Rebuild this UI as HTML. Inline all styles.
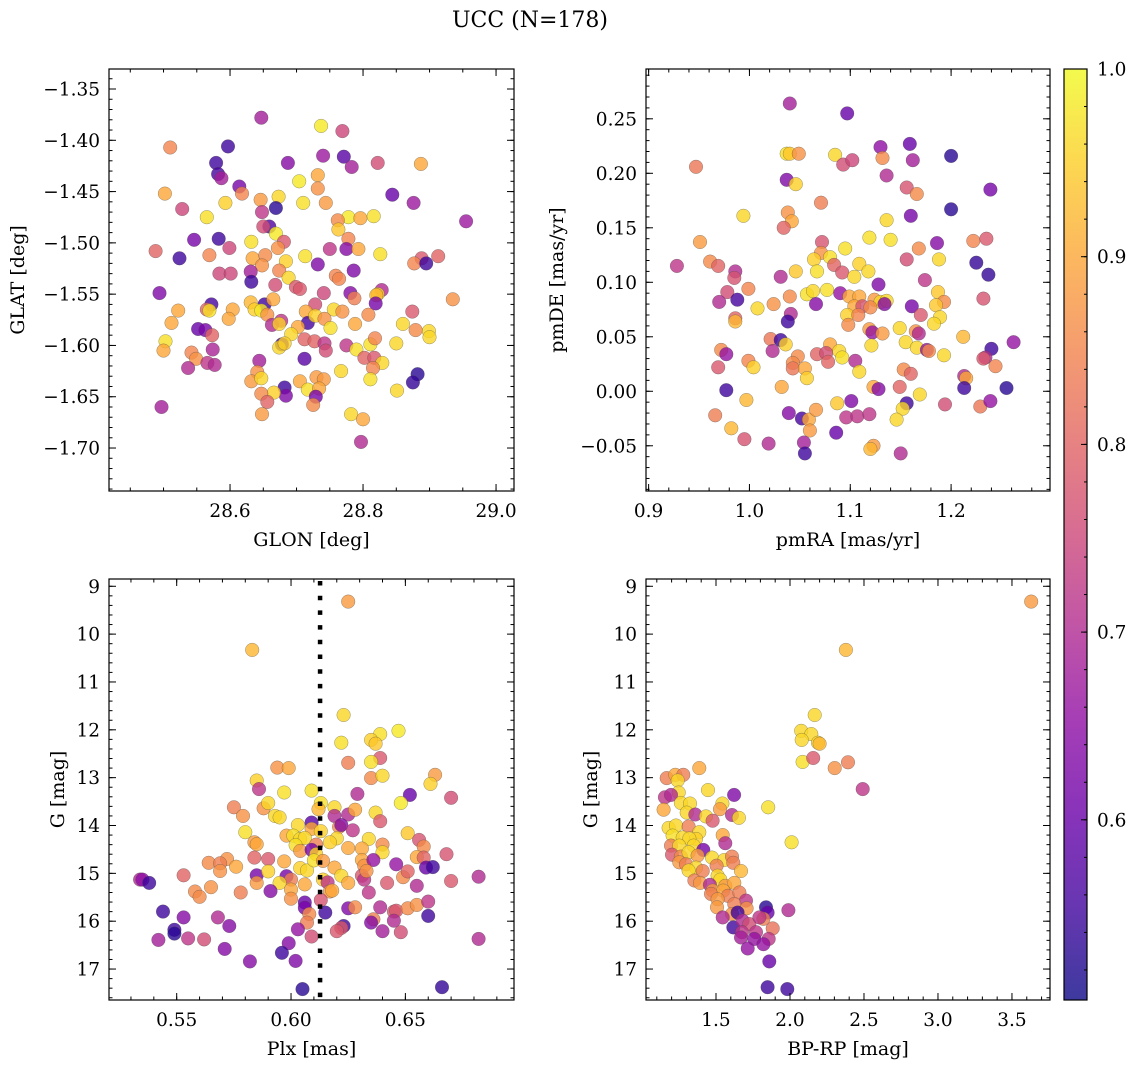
<!DOCTYPE html>
<html><head><meta charset="utf-8"><style>
html,body{margin:0;padding:0;background:#fff;}
svg{display:block;font-family:"DejaVu Serif","Liberation Serif",serif;}
</style></head><body>
<svg id="fig" width="1136" height="1068" viewBox="0 0 1136 1068" xmlns="http://www.w3.org/2000/svg">
<defs>
<linearGradient id="plasmaGrad" x1="0" y1="1" x2="0" y2="0">
<stop offset="0" stop-color="#0d0887"/><stop offset="0.1" stop-color="#41049d"/><stop offset="0.2" stop-color="#6a00a8"/><stop offset="0.3" stop-color="#8f0da4"/><stop offset="0.4" stop-color="#b12a90"/><stop offset="0.5" stop-color="#cc4778"/><stop offset="0.6" stop-color="#e16462"/><stop offset="0.7" stop-color="#f2844b"/><stop offset="0.8" stop-color="#fca636"/><stop offset="0.9" stop-color="#fcce25"/><stop offset="1" stop-color="#f0f921"/>
</linearGradient>
</defs>
<text x="530" y="27" text-anchor="middle" font-size="22">UCC (N=178)</text>
</svg>
<script>
// ---- Panel 1: GLON / GLAT ----
const glon = [28.647,28.737,28.769,28.510,28.597,28.687,28.740,28.771,28.783,28.822,28.887,28.579,28.582,28.587,28.704,28.732,28.732,28.614,28.618,28.502,28.646,28.673,28.710,28.744,28.844,28.876,28.593,28.528,28.669,28.648,28.565,28.778,28.796,28.816,28.762,28.955,28.659,28.650,28.669,28.763,28.546,28.583,28.632,28.681,28.778,28.488,28.599,28.672,28.750,28.775,28.793,28.826,28.524,28.569,28.634,28.653,28.713,28.913,28.888,28.877,28.895,28.648,28.684,28.732,28.584,28.601,28.631,28.674,28.786,28.632,28.688,28.759,28.764,28.668,28.699,28.705,28.741,28.494,28.781,28.828,28.822,28.820,28.787,28.819,28.935,28.631,28.652,28.665,28.572,28.565,28.569,28.522,28.604,28.637,28.647,28.728,28.714,28.756,28.769,28.874,28.512,28.598,28.656,28.677,28.663,28.674,28.717,28.728,28.742,28.751,28.788,28.808,28.860,28.552,28.563,28.573,28.702,28.692,28.879,28.899,28.900,28.503,28.500,28.574,28.678,28.674,28.682,28.712,28.727,28.742,28.744,28.775,28.811,28.818,28.790,28.850,28.542,28.549,28.537,28.566,28.577,28.644,28.712,28.802,28.817,28.829,28.815,28.767,28.641,28.632,28.647,28.730,28.741,28.705,28.811,28.882,28.875,28.851,28.682,28.684,28.717,28.734,28.666,28.647,28.656,28.729,28.725,28.497,28.648,28.782,28.800,28.797];
const glat = [-1.378,-1.386,-1.391,-1.407,-1.406,-1.422,-1.415,-1.416,-1.426,-1.422,-1.423,-1.422,-1.433,-1.437,-1.440,-1.434,-1.447,-1.445,-1.452,-1.452,-1.458,-1.455,-1.461,-1.461,-1.453,-1.461,-1.461,-1.467,-1.466,-1.470,-1.475,-1.475,-1.476,-1.474,-1.478,-1.479,-1.484,-1.484,-1.491,-1.487,-1.497,-1.496,-1.499,-1.499,-1.496,-1.508,-1.505,-1.505,-1.506,-1.506,-1.506,-1.511,-1.515,-1.512,-1.515,-1.512,-1.513,-1.513,-1.515,-1.520,-1.520,-1.522,-1.518,-1.521,-1.530,-1.530,-1.528,-1.527,-1.527,-1.538,-1.534,-1.532,-1.535,-1.541,-1.543,-1.545,-1.549,-1.549,-1.549,-1.546,-1.550,-1.551,-1.554,-1.559,-1.555,-1.558,-1.560,-1.555,-1.560,-1.565,-1.566,-1.566,-1.565,-1.565,-1.566,-1.560,-1.567,-1.565,-1.567,-1.567,-1.578,-1.574,-1.570,-1.576,-1.580,-1.579,-1.578,-1.571,-1.574,-1.583,-1.579,-1.570,-1.579,-1.584,-1.585,-1.590,-1.582,-1.589,-1.585,-1.586,-1.592,-1.596,-1.605,-1.604,-1.599,-1.602,-1.598,-1.594,-1.596,-1.598,-1.605,-1.600,-1.599,-1.593,-1.604,-1.598,-1.607,-1.613,-1.622,-1.617,-1.619,-1.615,-1.613,-1.612,-1.612,-1.617,-1.622,-1.625,-1.626,-1.635,-1.632,-1.631,-1.633,-1.635,-1.633,-1.628,-1.636,-1.644,-1.641,-1.649,-1.643,-1.642,-1.646,-1.647,-1.655,-1.650,-1.658,-1.660,-1.667,-1.667,-1.672,-1.694];
const prob1 = [.68,.98,.75,.85,.55,.64,.67,.58,.68,.76,.9,.55,.56,.68,.98,.9,.87,.62,.85,.9,.88,.96,.97,.88,.6,.67,.95,.75,.53,.72,.97,.98,.9,.97,.86,.67,.57,.76,.98,.94,.62,.55,.97,.78,.85,.8,.75,.87,.72,.64,.9,.97,.55,.85,.9,.86,.97,.8,.78,.85,.55,.87,.95,.63,.75,.75,.68,.85,.63,.55,.96,.85,.85,.76,.78,.78,.75,.63,.64,.7,.96,.92,.84,.62,.87,.92,.55,.9,.56,.8,.97,.9,.9,.95,.98,.76,.9,.96,.87,.78,.9,.9,.87,.72,.7,.95,.56,.95,.87,.97,.9,.86,.96,.6,.62,.8,.9,.96,.86,.96,.96,.97,.9,.69,.55,.96,.95,.8,.8,.72,.76,.72,.97,.85,.97,.96,.85,.87,.7,.72,.7,.68,.58,.8,.78,.96,.85,.96,.87,.88,.96,.88,.88,.9,.97,.53,.54,.96,.55,.63,.97,.9,.95,.86,.8,.62,.86,.68,.88,.96,.9,.7];
// ---- Panel 2: pmRA / pmDE ----
const pmra = [1.040,1.097,0.947,1.037,1.040,1.049,1.085,1.093,1.102,1.130,1.132,1.159,1.162,1.200,1.136,1.037,1.046,1.156,1.166,1.239,1.071,1.200,0.994,1.038,1.042,1.034,1.160,1.136,0.951,1.119,1.140,1.072,1.186,1.222,1.235,1.095,1.168,1.071,1.064,1.080,0.928,0.961,0.969,1.084,1.109,1.156,1.188,1.225,0.986,0.985,1.031,1.046,1.067,1.092,1.104,1.118,1.237,1.174,0.999,0.978,1.057,1.063,1.077,1.090,1.128,1.187,0.970,0.988,1.024,1.040,1.066,1.099,1.109,1.124,1.130,1.136,1.134,1.193,1.185,1.232,1.008,1.104,1.112,1.120,1.161,1.041,1.038,0.986,0.986,1.097,1.108,1.170,1.189,1.098,1.183,1.149,1.119,1.122,1.132,1.165,1.168,1.212,1.021,1.031,1.036,1.080,1.155,1.121,1.262,1.240,0.972,0.977,1.023,1.089,1.092,1.067,1.076,1.048,1.166,1.176,1.178,1.193,1.234,1.232,0.999,1.004,0.969,1.043,1.043,1.055,1.078,1.105,1.109,1.153,1.160,1.244,1.057,1.213,1.215,0.977,1.032,1.123,1.128,1.149,1.169,1.213,1.255,0.997,1.087,1.101,1.156,1.152,1.194,1.229,1.239,0.966,1.039,1.052,1.059,1.066,1.060,1.096,1.107,1.119,1.146,0.982,0.995,1.019,1.054,1.086,1.123,1.120,1.055,1.150];
const pmde = [0.264,0.255,0.206,0.218,0.218,0.218,0.217,0.208,0.212,0.224,0.214,0.227,0.212,0.216,0.198,0.194,0.190,0.187,0.181,0.185,0.173,0.167,0.161,0.164,0.156,0.150,0.161,0.157,0.137,0.141,0.139,0.137,0.136,0.138,0.140,0.131,0.131,0.127,0.121,0.123,0.115,0.119,0.115,0.116,0.117,0.121,0.121,0.118,0.110,0.104,0.105,0.110,0.110,0.109,0.105,0.110,0.107,0.102,0.094,0.091,0.089,0.092,0.093,0.090,0.098,0.091,0.082,0.084,0.080,0.087,0.080,0.087,0.087,0.084,0.082,0.083,0.080,0.082,0.079,0.085,0.076,0.078,0.078,0.077,0.078,0.071,0.064,0.067,0.064,0.070,0.070,0.070,0.068,0.061,0.062,0.058,0.057,0.054,0.053,0.055,0.053,0.050,0.048,0.047,0.043,0.043,0.045,0.042,0.045,0.039,0.038,0.034,0.037,0.037,0.031,0.034,0.035,0.032,0.040,0.038,0.037,0.033,0.031,0.030,0.028,0.022,0.022,0.026,0.021,0.021,0.027,0.028,0.018,0.020,0.016,0.023,0.012,0.014,0.012,0.001,0.004,0.004,0.002,0.004,-0.003,0.003,0.003,-0.008,-0.011,-0.009,-0.011,-0.016,-0.012,-0.014,-0.009,-0.022,-0.020,-0.025,-0.026,-0.017,-0.036,-0.024,-0.023,-0.021,-0.026,-0.034,-0.044,-0.048,-0.047,-0.038,-0.050,-0.053,-0.057,-0.057];
const prob2 = [.68,.6,.83,.97,.94,.87,.96,.76,.75,.65,.86,.6,.68,.53,.7,.63,.95,.77,.86,.62,.84,.53,.96,.87,.9,.8,.62,.96,.88,.97,.97,.77,.64,.85,.78,.97,.86,.87,.95,.97,.72,.86,.8,.8,.95,.76,.96,.54,.7,.77,.7,.94,.97,.78,.96,.96,.54,.72,.85,.76,.97,.96,.97,.66,.63,.94,.7,.56,.87,.86,.64,.9,.9,.88,.96,.96,.64,.86,.94,.77,.96,.9,.77,.86,.62,.7,.55,.8,.92,.95,.85,.78,.96,.86,.96,.96,.88,.66,.88,.87,.7,.92,.83,.55,.95,.9,.96,.96,.66,.55,.86,.66,.7,.96,.97,.8,.76,.86,.96,.66,.86,.96,.7,.78,.85,.95,.78,.86,.83,.9,.8,.7,.96,.86,.8,.85,.95,.7,.9,.55,.9,.9,.64,.8,.96,.55,.53,.92,.94,.63,.55,.96,.76,.83,.66,.84,.64,.56,.9,.88,.88,.72,.72,.72,.96,.92,.77,.7,.68,.6,.88,.92,.55,.7];
// ---- Panel 3: Plx / G ----
const plx = [0.625,0.583,0.623,0.647,0.639,0.635,0.637,0.622,0.639,0.625,0.635,0.594,0.599,0.663,0.635,0.640,0.661,0.585,0.586,0.597,0.609,0.629,0.652,0.670,0.648,0.575,0.588,0.590,0.579,0.593,0.595,0.613,0.612,0.619,0.619,0.625,0.628,0.637,0.639,0.609,0.603,0.609,0.621,0.622,0.627,0.580,0.598,0.601,0.604,0.606,0.613,0.620,0.617,0.634,0.651,0.656,0.584,0.585,0.602,0.604,0.611,0.609,0.611,0.625,0.631,0.640,0.640,0.658,0.655,0.658,0.668,0.584,0.590,0.572,0.564,0.569,0.569,0.576,0.597,0.604,0.607,0.610,0.614,0.619,0.631,0.632,0.636,0.646,0.659,0.662,0.553,0.534,0.535,0.538,0.585,0.590,0.598,0.600,0.622,0.625,0.631,0.632,0.633,0.649,0.651,0.670,0.682,0.585,0.595,0.606,0.614,0.616,0.617,0.618,0.558,0.560,0.565,0.578,0.591,0.600,0.600,0.642,0.655,0.634,0.613,0.606,0.544,0.553,0.568,0.606,0.608,0.607,0.615,0.625,0.628,0.639,0.645,0.646,0.651,0.655,0.660,0.660,0.636,0.635,0.645,0.623,0.622,0.620,0.549,0.549,0.542,0.555,0.562,0.573,0.603,0.609,0.640,0.648,0.682,0.571,0.599,0.596,0.602,0.582,0.605,0.666];
const gmag3 = [9.32,10.33,11.69,12.02,12.09,12.21,12.29,12.27,12.59,12.69,12.67,12.79,12.80,12.94,13.01,12.96,13.13,13.06,13.24,13.31,13.27,13.34,13.36,13.42,13.53,13.62,13.64,13.53,13.80,13.80,13.83,13.53,13.66,13.62,13.80,13.77,13.67,13.73,13.91,13.94,13.99,14.07,14.03,13.99,14.10,14.14,14.21,14.21,14.28,14.26,14.12,14.27,14.35,14.28,14.16,14.30,14.35,14.39,14.41,14.53,14.40,14.51,14.60,14.47,14.48,14.40,14.56,14.44,14.66,14.67,14.60,14.67,14.70,14.70,14.78,14.79,14.95,14.86,14.75,14.89,14.94,14.73,14.74,14.88,14.72,14.84,14.72,14.81,14.88,14.87,15.04,15.13,15.13,15.20,15.04,14.96,15.06,15.13,15.05,15.20,15.05,15.13,14.95,15.08,14.96,15.16,15.07,15.20,15.20,15.23,15.13,15.19,15.38,15.36,15.38,15.49,15.29,15.40,15.37,15.34,15.53,15.20,15.26,15.40,15.56,15.61,15.80,15.92,15.92,15.72,15.85,16.03,15.82,15.73,15.71,15.71,15.80,15.78,15.73,15.66,15.59,15.89,15.96,16.03,15.99,16.10,16.14,16.21,16.18,16.26,16.39,16.36,16.38,16.10,16.17,16.32,16.21,16.23,16.37,16.58,16.46,16.66,16.83,16.84,17.42,17.38];
const prob3 = [.88,.92,.96,.98,.97,.95,.94,.97,.78,.84,.97,.87,.9,.88,.86,.96,.95,.95,.72,.97,.97,.7,.6,.76,.98,.84,.87,.96,.87,.96,.96,.97,.92,.96,.7,.7,.9,.96,.78,.58,.96,.9,.86,.64,.72,.97,.9,.97,.96,.96,.95,.96,.95,.96,.94,.77,.88,.9,.97,.88,.84,.62,.95,.9,.9,.86,.96,.86,.9,.8,.77,.8,.78,.87,.86,.84,.87,.9,.9,.95,.96,.97,.88,.9,.9,.87,.66,.66,.6,.55,.8,.7,.65,.55,.62,.95,.62,.84,.96,.9,.78,.72,.87,.86,.8,.78,.7,.88,.96,.9,.95,.72,.88,.9,.86,.86,.87,.84,.64,.9,.87,.78,.7,.72,.77,.6,.55,.64,.7,.62,.86,.84,.55,.63,.86,.7,.78,.78,.86,.87,.72,.55,.84,.64,.7,.55,.78,.78,.55,.53,.68,.72,.76,.64,.66,.76,.68,.76,.7,.64,.64,.55,.63,.64,.53,.54];
// ---- Panel 4: BP-RP / G ----
const bprp = [2.378,2.167,2.076,2.144,2.079,2.189,2.200,2.085,2.157,2.302,2.392,2.491,1.853,2.011,1.989,1.387,1.167,1.225,1.279,1.241,1.248,1.155,1.196,1.446,1.622,1.146,1.263,1.324,1.302,1.360,1.543,1.527,1.432,1.477,1.608,1.655,1.180,1.230,1.315,1.207,1.275,1.387,1.365,1.320,1.545,1.563,1.196,1.252,1.349,1.414,1.203,1.263,1.315,1.376,1.473,1.556,1.608,1.617,1.252,1.297,1.365,1.315,1.410,1.669,1.504,1.511,1.529,1.354,1.392,1.459,1.563,1.624,1.477,1.549,1.466,1.581,1.658,1.703,1.511,1.624,1.707,1.507,1.608,1.646,1.545,1.838,1.849,1.820,1.617,1.680,1.725,1.793,1.883,1.676,1.770,1.669,1.759,1.856,1.820,1.714,1.860,1.849,1.982,3.630];
const gmag4 = [10.33,11.69,12.02,12.09,12.21,12.27,12.29,12.67,12.59,12.80,12.68,13.24,13.62,14.35,15.77,12.80,13.01,12.94,12.94,13.06,13.31,13.41,13.36,13.26,13.36,13.67,13.53,13.54,13.73,13.77,13.54,13.66,13.81,13.90,13.78,13.84,14.05,14.00,14.02,14.21,14.25,14.14,14.28,14.27,14.20,14.37,14.42,14.42,14.42,14.51,14.61,14.65,14.56,14.63,14.67,14.72,14.65,14.78,14.77,14.81,14.88,14.94,14.95,14.95,14.84,15.05,15.13,15.15,15.20,15.24,15.26,15.20,15.36,15.36,15.43,15.47,15.40,15.57,15.54,15.64,15.73,15.71,15.85,15.82,15.92,15.71,15.82,15.95,16.13,15.99,16.06,15.92,16.15,16.23,16.23,16.34,16.37,16.37,16.48,16.57,16.84,17.38,17.42,9.32];
const prob4 = [.92,.96,.96,.96,.96,.96,.92,.97,.78,.87,.84,.72,.97,.97,.7,.9,.84,.9,.84,.96,.96,.72,.7,.96,.63,.9,.96,.96,.96,.7,.96,.88,.96,.78,.7,.96,.96,.96,.84,.97,.96,.96,.95,.96,.9,.7,.84,.96,.96,.62,.78,.86,.96,.88,.96,.96,.84,.84,.88,.84,.96,.96,.84,.92,.84,.96,.96,.84,.88,.7,.88,.9,.88,.9,.84,.84,.84,.72,.88,.84,.87,.88,.87,.55,.7,.53,.6,.84,.55,.7,.76,.72,.82,.72,.72,.68,.66,.72,.66,.66,.6,.55,.55,.88];
// ---- tick labels ----
const ticks1x = [28.6, 28.8, 29.0];
const ticks1y = [-1.35,-1.40,-1.45,-1.50,-1.55,-1.60,-1.65,-1.70];
const ticks2x = [0.9, 1.0, 1.1, 1.2];
const ticks2y = [0.25,0.20,0.15,0.10,0.05,0.00,-0.05];
const ticks3x = [0.55, 0.60, 0.65];
const ticksG = [9,10,11,12,13,14,15,16,17];
const ticks4x = [1.5,2.0,2.5,3.0,3.5];
const cbarTicks = [0.6,0.7,0.8,0.9,1.0];
const plxLine = 0.6127;
const probMin = 0.504, probMax = 1.0;

const TICK_FS = 18.5, LABEL_FS = 19;
const NS = 'http://www.w3.org/2000/svg';
const svg = document.getElementById('fig');
function mk(tag, attrs, parent) {
  const e = document.createElementNS(NS, tag);
  for (const k in attrs) e.setAttribute(k, attrs[k]);
  (parent || svg).appendChild(e);
  return e;
}
const plasma = ['#0d0887','#41049d','#6a00a8','#8f0da4','#b12a90','#cc4778','#e16462','#f2844b','#fca636','#fcce25','#f0f921'];
function hex(c){return [parseInt(c.slice(1,3),16),parseInt(c.slice(3,5),16),parseInt(c.slice(5,7),16)];}
function cmap(v) {
  let t = (v - probMin) / (probMax - probMin); t = Math.max(0, Math.min(1, t));
  const f = t * 10, i = Math.min(9, Math.floor(f)), r = f - i;
  const a = hex(plasma[i]), b = hex(plasma[i + 1]);
  return 'rgb(' + a.map((x, k) => Math.round(x + (b[k] - x) * r)).join(',') + ')';
}
function fmt(v, d) { const s = Math.abs(v).toFixed(d); return (v < -1e-9 ? '\u2212' : '') + s; }

function panel(cfg) {
  const g = mk('g', {});
  
  
  const L = cfg.x0, R = cfg.x1, T = cfg.y0, B = cfg.y1;
  const sx = v => L + (v - cfg.xmin) / (cfg.xmax - cfg.xmin) * (R - L);
  const sy = v => cfg.yinv ? T + (v - cfg.ymin) / (cfg.ymax - cfg.ymin) * (B - T) : B - (v - cfg.ymin) / (cfg.ymax - cfg.ymin) * (B - T);
  const clip = mk('clipPath', { id: 'clip-' + cfg.name }, g);
  mk('rect', { x: L, y: T, width: R - L, height: B - T }, clip);
  const pts = mk('g', { 'clip-path': 'url(#clip-' + cfg.name + ')' }, g);
  
  
  const n = Math.min(cfg.xs.length, cfg.ys.length, cfg.cs.length);
  for (let i = 0; i < n; i++) {
    const c = mk('circle', { cx: sx(cfg.xs[i]).toFixed(1), cy: sy(cfg.ys[i]).toFixed(1), r: 6.8, fill: cmap(cfg.cs[i]), 'fill-opacity': 0.8, stroke: 'rgba(70,70,70,0.55)', 'stroke-width': 0.5 }, pts);
    
    
  }
  if (cfg.vline !== undefined) {
    const vl = mk('line', { x1: sx(cfg.vline), x2: sx(cfg.vline), y1: T + 2, y2: B, stroke: '#000', 'stroke-width': 4.5, 'stroke-dasharray': '4.5 10.2' }, pts);
    
    
  }
  const tg = mk('g', { stroke: '#000', 'stroke-width': 1 }, g);
  const eps = 1e-9;
  for (let v = Math.ceil(cfg.xmin / cfg.xminor - eps) * cfg.xminor; v <= cfg.xmax + eps; v += cfg.xminor) {
    const x = sx(v); if (x < L + 0.5 || x > R - 0.5) continue;
    mk('line', { x1: x, x2: x, y1: B, y2: B - 3.5 }, tg); mk('line', { x1: x, x2: x, y1: T, y2: T + 3.5 }, tg);
  }
  for (let v = Math.ceil(cfg.ymin / cfg.yminor - eps) * cfg.yminor; v <= cfg.ymax + eps; v += cfg.yminor) {
    const y = sy(v); if (y < T + 0.5 || y > B - 0.5) continue;
    mk('line', { x1: L, x2: L + 3.5, y1: y, y2: y }, tg); mk('line', { x1: R, x2: R - 3.5, y1: y, y2: y }, tg);
  }
  cfg.xt.forEach(v => {
    const x = sx(v);
    mk('line', { x1: x, x2: x, y1: B, y2: B - 7 }, tg); mk('line', { x1: x, x2: x, y1: T, y2: T + 7 }, tg);
    const t = mk('text', { x: x, y: B + 26, 'text-anchor': 'middle', 'font-size': TICK_FS }, g);
    t.textContent = fmt(v, cfg.xd);
    
    
  });
  cfg.yt.forEach(v => {
    const y = sy(v);
    mk('line', { x1: L, x2: L + 7, y1: y, y2: y }, tg); mk('line', { x1: R, x2: R - 7, y1: y, y2: y }, tg);
    const t = mk('text', { x: L - 9, y: y + 6.5, 'text-anchor': 'end', 'font-size': TICK_FS }, g);
    t.textContent = fmt(v, cfg.yd);
    
    
  });
  const fr = mk('rect', { x: L, y: T, width: R - L, height: B - T, fill: 'none', stroke: '#000', 'stroke-width': 1.2 }, g);
  
  
  const xl = mk('text', { x: (L + R) / 2, y: B + 55, 'text-anchor': 'middle', 'font-size': LABEL_FS }, g);
  xl.textContent = cfg.xlabel;
  
  
  const yl = mk('text', { x: 0, y: 0, 'text-anchor': 'middle', 'font-size': LABEL_FS, transform: 'translate(' + cfg.ylx + ',' + (T + B) / 2 + ') rotate(-90)' }, g);
  yl.textContent = cfg.ylabel;
  
  
}

panel({ name: 'glon-glat-panel', x0: 109, x1: 514, y0: 69, y1: 491, xmin: 28.418, xmax: 29.027, ymin: -1.7419, ymax: -1.3305, xs: glon, ys: glat, cs: prob1, xt: ticks1x, yt: ticks1y, xd: 1, yd: 2, xminor: 0.05, yminor: 0.01, xlabel: 'GLON [deg]', ylabel: 'GLAT [deg]', ylx: 24 });
panel({ name: 'proper-motion-panel', x0: 646, x1: 1050, y0: 69, y1: 491, xmin: 0.8974, xmax: 1.2981, ymin: -0.0915, ymax: 0.2957, xs: pmra, ys: pmde, cs: prob2, xt: ticks2x, yt: ticks2y, xd: 1, yd: 2, xminor: 0.02, yminor: 0.01, xlabel: 'pmRA [mas/yr]', ylabel: 'pmDE [mas/yr]', ylx: 563 });
panel({ name: 'parallax-cmd-panel', x0: 109, x1: 514, y0: 579, y1: 1000, xmin: 0.5204, xmax: 0.6975, ymin: 8.848, ymax: 17.647, yinv: true, xs: plx, ys: gmag3, cs: prob3, xt: ticks3x, yt: ticksG, xd: 2, yd: 0, xminor: 0.01, yminor: 0.2, xlabel: 'Plx [mas]', ylabel: 'G [mag]', ylx: 64, vline: plxLine });
panel({ name: 'color-magnitude-panel', x0: 646, x1: 1050, y0: 579, y1: 1000, xmin: 1.027, xmax: 3.757, ymin: 8.848, ymax: 17.647, yinv: true, xs: bprp, ys: gmag4, cs: prob4, xt: ticks4x, yt: ticksG, xd: 1, yd: 0, xminor: 0.1, yminor: 0.2, xlabel: 'BP-RP [mag]', ylabel: 'G [mag]', ylx: 597 });

const cb = mk('g', {});


const cbT = 69, cbB = 1000, cbL = 1064, cbR = 1087;
mk('rect', { x: cbL, y: cbT, width: cbR - cbL, height: cbB - cbT, fill: 'url(#plasmaGrad)', 'fill-opacity': 0.8 }, cb);
mk('rect', { x: cbL, y: cbT, width: cbR - cbL, height: cbB - cbT, fill: 'none', stroke: '#000', 'stroke-width': 1.2 }, cb);
const cy = v => cbB - (v - probMin) / (probMax - probMin) * (cbB - cbT);
for (let v = 0.52; v < 1.0; v += 0.02) {
  const y = cy(v); if (y < cbT + 1 || y > cbB - 1) continue;
  mk('line', { x1: cbR, x2: cbR - 3, y1: y, y2: y, stroke: '#000', 'stroke-width': 1 }, cb);
}
cbarTicks.forEach(v => {
  const y = cy(v);
  mk('line', { x1: cbR, x2: cbR - 6, y1: y, y2: y, stroke: '#000', 'stroke-width': 1 }, cb);
  const t = mk('text', { x: cbR + 10, y: y + 6.5, 'font-size': TICK_FS }, cb);
  t.textContent = v.toFixed(1);
  
  
});
</script>
</body></html>
